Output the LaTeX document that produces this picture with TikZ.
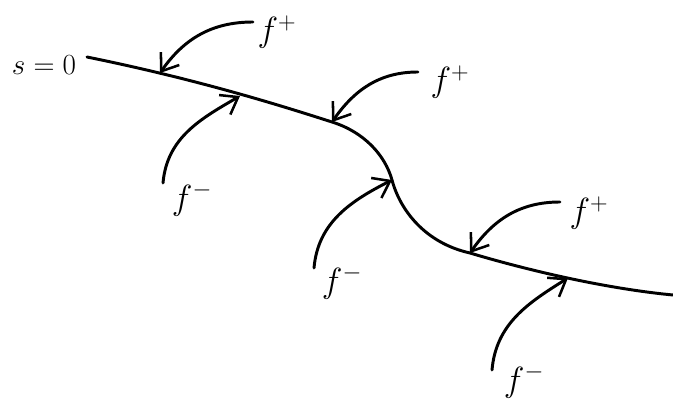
\documentclass[tikz,border=0pt]{standalone}
\usepackage{amsmath, amssymb}
\usepackage{tikz}
\usetikzlibrary{arrows.meta, positioning, calc}

\begin{document}
\begin{tikzpicture}[x=0.025cm, y=-0.025cm,
    curveline/.style={line width=2.1pt, line cap=round},
    flux/.style={line width=2.1pt, line cap=round, -{Straight Barb[length=11pt, width=16pt, line width=1.8pt]}},
    lbl/.style={inner sep=0pt, font=\fontsize{25}{30}\selectfont}]
    \useasboundingbox (0,0) rectangle (673,399);
    % points on the curve where the arrows land
    \coordinate (c0) at (87,57);
    \coordinate (tA) at (160,73);
    \coordinate (tB) at (240,96);
    \coordinate (tC) at (332,122);
    \coordinate (tD) at (392,180);
    \coordinate (tE) at (470,253);
    \coordinate (tF) at (568,278);
    \coordinate (c1) at (673,295);
    \draw[curveline] (c0) .. controls (200,80) and (282,106) .. (tC)
        .. controls (364,132) and (385,155) .. (tD)
        .. controls (400,210) and (425,243) .. (tE)
        .. controls (520,268) and (600,288) .. (c1);
    % start points of the arrows
    \coordinate (sA) at (253,22);
    \coordinate (sB) at (163,183);
    \coordinate (sC) at (418,72);
    \coordinate (sD) at (314,268);
    \coordinate (sE) at (560,202);
    \coordinate (sF) at (492,370);
    \draw[flux] (sA) to[out=180, in=55] (tA);
    \draw[flux] (sB) to[out=85, in=210] (tB);
    \draw[flux] (sC) to[out=180, in=55] (tC);
    \draw[flux] (sD) to[out=85, in=207] (tD);
    \draw[flux] (sE) to[out=180, in=55] (tE);
    \draw[flux] (sF) to[out=85, in=212] (tF);
    % labels
    \node[lbl, font=\fontsize{22}{26}\selectfont] (s) at (44,65) {$s=0$};
    \node[lbl] (pA) at (277,32) {$f^+$};
    \node[lbl] (mA) at (192,199) {$f^-$};
    \node[lbl] (pB) at (450,82) {$f^+$};
    \node[lbl] (mB) at (342,282) {$f^-$};
    \node[lbl] (pC) at (589,213) {$f^+$};
    \node[lbl] (mC) at (524,381) {$f^-$};
\end{tikzpicture}
\end{document}
